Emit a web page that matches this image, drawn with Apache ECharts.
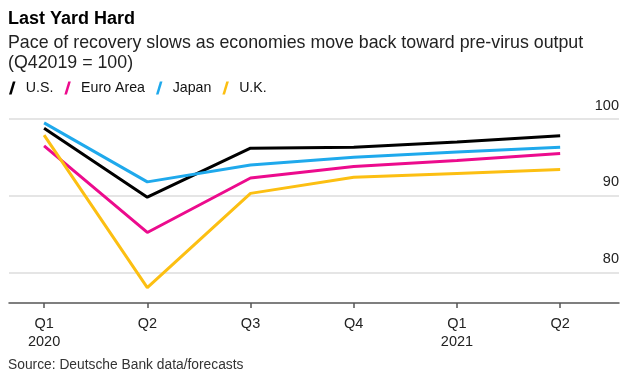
<!DOCTYPE html>
<html>
<head>
<meta charset="utf-8">
<script src="https://cdn.jsdelivr.net/npm/echarts@6/dist/echarts.min.js"></script>
<style>
  html, body { margin: 0; padding: 0; background: #fff; }
  #chart { width: 637px; height: 375px; }
</style>
</head>
<body>
<div id="chart"></div>
<script>
// quarters on the x axis
var quarters = ["Q1\n2020", "Q2", "Q3", "Q4", "Q1\n2021", "Q2"];
// GDP index, Q4 2019 = 100
var usValues = [98.8, 89.8, 96.2, 96.3, 97.0, 97.8];
var euroValues = [96.5, 85.2, 92.3, 93.8, 94.6, 95.5];
var japanValues = [99.5, 91.8, 94.0, 95.0, 95.7, 96.3];
var ukValues = [97.9, 78.0, 90.3, 92.4, 92.9, 93.4];
var yTicks = [80, 90, 100];

var font = "'Liberation Sans', Arial, sans-serif";
var slash = "path://M3,0 L5,0 L2,10 L0,10 Z";

function toPoints(values) {
  return values.map(function (v, i) { return [i, v]; });
}

function makeSeries(name, values, color) {
  return {
    name: name,
    type: "line",
    data: toPoints(values),
    symbol: "none",
    lineStyle: { color: color, width: 3 },
    itemStyle: { color: color },
    animation: false
  };
}

var chart = echarts.init(document.getElementById("chart"));
chart.setOption({
  backgroundColor: "#fff",
  textStyle: { fontFamily: font },
  title: [
    {
      text: "Last Yard Hard",
      left: 8,
      top: 10,
      padding: 0,
      textStyle: { fontFamily: font, fontSize: 18, fontWeight: "bold", color: "#000" }
    },
    {
      text: "Pace of recovery slows as economies move back toward pre-virus output\n(Q42019 = 100)",
      left: 8,
      top: 33,
      padding: 0,
      textStyle: { fontFamily: font, fontSize: 17.8, fontWeight: "normal", color: "#222", lineHeight: 20 }
    },
    {
      text: "Source: Deutsche Bank data/forecasts",
      left: 8,
      top: 358,
      padding: 0,
      textStyle: { fontFamily: font, fontSize: 13.8, fontWeight: "normal", color: "#333" }
    }
  ],
  legend: {
    left: 9,
    top: 81,
    padding: 0,
    icon: slash,
    itemWidth: 9,
    itemHeight: 13,
    itemGap: 11,
    textStyle: { fontFamily: font, fontSize: 14.2, color: "#111", padding: [0, 0, 0, 4] },
    data: ["U.S.", "Euro Area", "Japan", "U.K."]
  },
  grid: { left: 9, right: 18, top: 119, bottom: 72 },
  xAxis: {
    type: "value",
    min: -0.34,
    max: 5.57,
    axisLine: { show: true, lineStyle: { color: "#555", width: 1.5 } },
    axisTick: {
      show: true,
      length: 5,
      customValues: [0, 1, 2, 3, 4, 5],
      lineStyle: { color: "#555", width: 1.5 }
    },
    axisLabel: {
      customValues: [0, 1, 2, 3, 4, 5],
      formatter: function (v) { return quarters[Math.round(v)]; },
      fontFamily: font,
      fontSize: 14.5,
      color: "#222",
      lineHeight: 18,
      margin: 12
    },
    splitLine: { show: false }
  },
  yAxis: {
    type: "value",
    position: "right",
    min: 76,
    max: 100,
    axisLine: { show: false },
    axisTick: { show: false, customValues: yTicks },
    axisLabel: {
      customValues: yTicks,
      inside: true,
      margin: 0,
      verticalAlign: "bottom",
      padding: [0, 0, 6, 0],
      fontFamily: font,
      fontSize: 14.5,
      color: "#222"
    },
    splitLine: { show: true, lineStyle: { color: "#dcdcdc", width: 1.5 } }
  },
  series: [
    makeSeries("U.S.", usValues, "#000000"),
    makeSeries("Euro Area", euroValues, "#ec0b8d"),
    makeSeries("Japan", japanValues, "#1fa9ec"),
    makeSeries("U.K.", ukValues, "#fcbf12")
  ]
});
</script>
</body>
</html>
